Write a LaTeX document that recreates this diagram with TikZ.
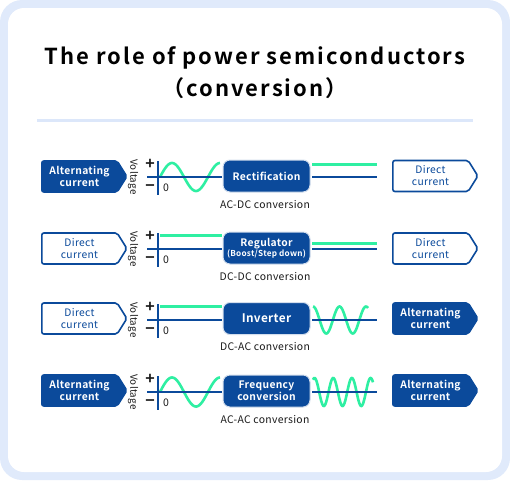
\documentclass[tikz,border=0pt]{standalone}
\usepackage{fontspec}
\setmainfont{Noto Sans CJK JP}[BoldFont={* Bold},LetterSpace=3]
\newfontfamily\titlefont{Noto Sans CJK JP}[BoldFont={* Bold},LetterSpace=9]
\usepackage{xcolor}
\definecolor{cMain}{HTML}{0B4A9B}
\definecolor{cWave}{HTML}{2EEFA2}
\definecolor{cFrame}{HTML}{E0EAFB}
\definecolor{cRule}{HTML}{DCE7FA}
\definecolor{cText}{HTML}{1A1A1A}
\usetikzlibrary{positioning,shapes.symbols}
\tikzset{
  tag-base/.style={signal,signal to=east,signal pointer angle=116,
    rounded corners=2pt,line width=1.6pt,draw=cMain,
    minimum width=85pt,minimum height=31pt,inner sep=1pt,align=center,
    font=\fontsize{10.3}{12}\selectfont},
  tag-ac/.style={tag-base,fill=cMain,text=white,font=\bfseries\fontsize{10.3}{12}\selectfont},
  tag-dc/.style={tag-base,fill=white,text=cMain},
  conv-box/.style={rounded corners=7pt,fill=cMain,draw=cMain!18,line width=1pt,
    minimum width=87pt,minimum height=32pt,inner sep=1pt,align=center,text=white,
    font=\bfseries\fontsize{10.3}{12}\selectfont},
  conv-label/.style={text=cText,font=\fontsize{10.4}{12}\selectfont,inner sep=0pt},
  volt-label/.style={rotate=-90,text=cText,font=\fontsize{9.8}{11}\selectfont,inner sep=0pt},
  sign/.style={text=cText,font=\bfseries\fontsize{16}{17}\selectfont,inner sep=0pt},
  zero/.style={text=cText,font=\fontsize{10.5}{12}\selectfont,inner sep=0pt},
  axis/.style={draw=cMain,line width=2.2pt},
  level/.style={draw=cWave,line width=3pt},
  wave/.style={draw=cWave,line width=2.6pt,smooth},
}

\begin{document}
\begin{tikzpicture}[x=1pt,y=-1pt]
  \useasboundingbox (0,0) rectangle (510,480);
  % frame
  \fill[cFrame,rounded corners=22pt] (0,0) rectangle (510,480);
  \fill[white,rounded corners=16pt] (8,8) rectangle (502,472);
  \node[font=\titlefont\bfseries\fontsize{22}{25}\selectfont,anchor=base,inner sep=0pt] (title1)
    at (255,64) {The role of power semiconductors};
  \node[font=\titlefont\bfseries\fontsize{22}{25}\selectfont,anchor=base,inner sep=0pt] (title2)
    at (255,96) {（conversion）};
  \draw[cRule,line width=3pt] (37,120) -- (473,120);

  % row 1: AC -> DC
  \node[tag-ac] (in1) at (79.5,176.5) {Alternating\\current};
  \node[volt-label] (v1) at (133,177) {Voltage};
  \node[sign] (p1) at (150,164) {+};
  \node[sign] (m1) at (150,188) {−};
  \node[zero] (z1) at (166,188) {0};
  \draw[wave] plot[domain=160:220,samples=80] (\x,{177-14*sin((\x-160)*7.5)});
  \draw[axis] (158,161) -- (158,195);
  \draw[axis] (147,177) -- (222,177);
  \node[conv-box] (c1) at (266.5,176) {Rectification};
  \node[conv-label] (l1) at (265,205) {AC-DC conversion};
  \draw[level] (312,164) -- (377,164);
  \draw[axis] (312,177) -- (377,177);
  \node[tag-dc] (out1) at (430.5,176) {Direct\\current};

  % row 2: DC -> DC
  \node[tag-dc] (in2) at (79.5,248.5) {Direct\\current};
  \node[volt-label] (v2) at (133,249) {Voltage};
  \node[sign] (p2) at (150,236) {+};
  \node[sign] (m2) at (150,260) {−};
  \node[zero] (z2) at (166,260) {0};
  \draw[level] (160,235.5) -- (222,235.5);
  \draw[axis] (158,233) -- (158,267);
  \draw[axis] (147,249) -- (222,249);
  \node[conv-box] (c2) at (266.5,248)
    {Regulator\\[-2pt]{\fontsize{8.2}{9}\selectfont(Boost/Step down)}};
  \node[conv-label] (l2) at (265,277) {DC-DC conversion};
  \draw[level] (312,243) -- (377,243);
  \draw[axis] (312,249) -- (377,249);
  \node[tag-dc] (out2) at (430.5,248.5) {Direct\\current};

  % row 3: DC -> AC
  \node[tag-dc] (in3) at (79.5,318.5) {Direct\\current};
  \node[volt-label] (v3) at (133,320) {Voltage};
  \node[sign] (p3) at (150,307) {+};
  \node[sign] (m3) at (150,331) {−};
  \node[zero] (z3) at (166,331) {0};
  \draw[level] (160,306) -- (222,306);
  \draw[axis] (158,304) -- (158,338);
  \draw[axis] (147,320) -- (222,320);
  \node[conv-box,font=\bfseries\fontsize{11.8}{13}\selectfont] (c3) at (266.5,318.5) {Inverter};
  \node[conv-label] (l3) at (265,347) {DC-AC conversion};
  \draw[wave] plot[domain=313:368,samples=80] (\x,{320-13.5*cos((\x-313)*13.585)});
  \draw[axis] (312,320) -- (377,320);
  \node[tag-ac] (out3) at (430.5,318.5) {Alternating\\current};

  % row 4: AC -> AC
  \node[tag-ac] (in4) at (79.5,390.5) {Alternating\\current};
  \node[volt-label] (v4) at (133,392) {Voltage};
  \node[sign] (p4) at (150,379) {+};
  \node[sign] (m4) at (150,403) {−};
  \node[zero] (z4) at (166,403) {0};
  \draw[wave] plot[domain=160:220,samples=80] (\x,{392-14.5*sin((\x-160)*7.5)});
  \draw[axis] (158,376) -- (158,410);
  \draw[axis] (147,392) -- (222,392);
  \node[conv-box] (c4) at (266.5,391) {Frequency\\conversion};
  \node[conv-label] (l4) at (265,420) {AC-AC conversion};
  \draw[wave] plot[domain=313:373,samples=100] (\x,{392-14*cos((\x-314.5)*19.25)});
  \draw[axis] (312,392) -- (377,392);
  \node[tag-ac] (out4) at (430.5,390.5) {Alternating\\current};
\end{tikzpicture}
\end{document}
